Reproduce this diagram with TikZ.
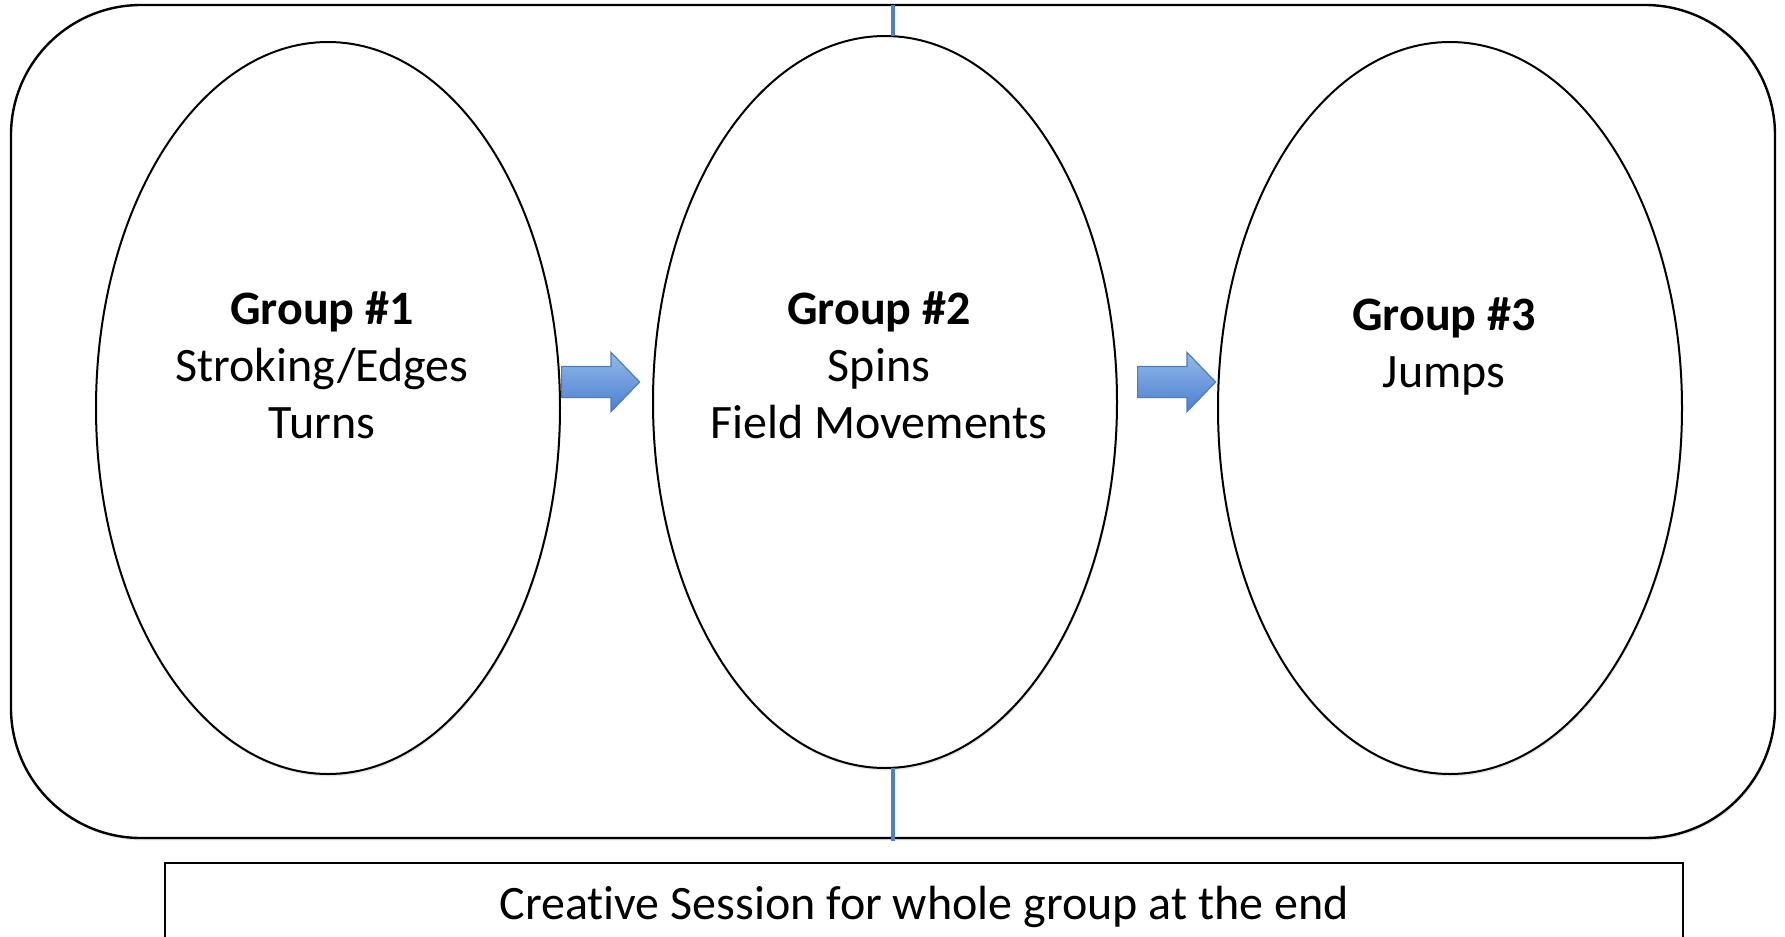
\documentclass[tikz,border=0pt]{standalone}
\usepackage{fontspec}
\setmainfont{Carlito}[Ligatures=NoCommon]
\usetikzlibrary{shapes.geometric,shapes.arrows,shadows}
\definecolor{linkblue}{HTML}{4F81BD}
\definecolor{arrtop}{HTML}{95B9EA}
\definecolor{arrbot}{HTML}{4A7FD0}
\definecolor{arredge}{HTML}{4A7EBB}

\begin{document}
\begin{tikzpicture}[x=0.5pt, y=-0.5pt,
  soft/.style={drop shadow={opacity=0.2, shadow xshift=0.4pt, shadow yshift=-1.2pt}},
  frame/.style={draw, line width=1.2pt, rounded corners=65pt, fill=white, soft,
                minimum width=882pt, minimum height=416.5pt, inner sep=0pt, outer sep=0pt},
  grp/.style={ellipse, draw, line width=1pt, fill=white, soft,
              minimum width=232pt, minimum height=366pt, inner sep=0pt, outer sep=0pt},
  lbl/.style={align=center, font=\fontsize{24}{28.5}\selectfont, inner sep=0pt, anchor=base},
  move/.style={single arrow, draw=arredge, line width=0.6pt, top color=arrtop, bottom color=arrbot,
               minimum height=39pt, text height=7.5pt, text depth=7.5pt, text width=0pt,
               single arrow head extend=7pt, single arrow tip angle=92, inner sep=0pt,
               anchor=tail},
  link/.style={linkblue, line width=1.6pt},
  endbox/.style={draw, line width=1pt, fill=white, minimum width=759pt, inner xsep=0pt,
                 inner ysep=10pt, text height=18pt, text depth=30pt,
                 font=\fontsize{24}{28.5}\selectfont}
]
  \clip (0,0) rectangle (1785,937);
  \node[frame] (frame) at (893,421.5) {};
  % the three groups
  \node[grp] (g1) at (328,408) {};
  \node[grp] (g2) at (885,402) {};
  \node[grp] (g3) at (1450,408) {};
  \node[lbl] (t1) at (322,438) {\textbf{Group \#1}\\Stroking/Edges\\Turns};
  \node[lbl] (t2) at (879,438) {\textbf{Group \#2}\\Spins\\Field Movements};
  \node[lbl] (t3) at (1444,387) {\textbf{Group \#3}\\Jumps};
  \node[move] (m1) at (561,382) {};
  \node[move] (m2) at (1137,382) {};
  \draw[link] (frame.north) -- (frame.north |- g2.north);
  \draw[link] (frame.south |- g2.south) -- ([yshift=-1.5pt]frame.south);
  \node[endbox, anchor=north] (wrap) at (924,862) {Creative Session for whole group at the end};
\end{tikzpicture}
\end{document}
